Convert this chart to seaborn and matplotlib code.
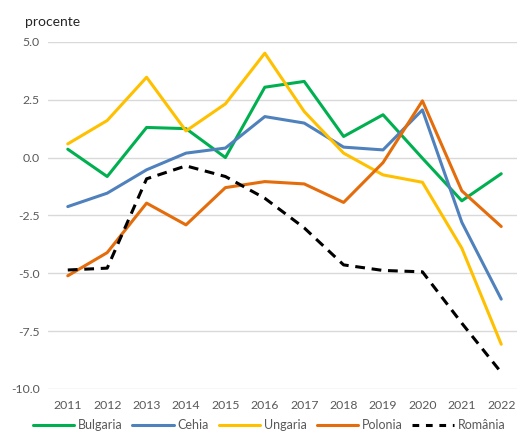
import numpy as np
import pandas as pd
import seaborn as sns
import matplotlib.pyplot as plt
from matplotlib.ticker import FormatStrFormatter

# data
years = list(range(2011, 2023))
bulgaria = [0.36, -0.82, 1.30, 1.25, 0.00, 3.04, 3.29, 0.91, 1.85, -0.03, -1.87, -0.70]
cehia = [-2.12, -1.54, -0.53, 0.19, 0.41, 1.77, 1.49, 0.45, 0.33, 2.06, -2.80, -6.12]
ungaria = [0.59, 1.60, 3.47, 1.15, 2.32, 4.51, 1.99, 0.19, -0.75, -1.07, -3.92, -8.07]
polonia = [-5.11, -4.11, -1.97, -2.91, -1.30, -1.04, -1.14, -1.94, -0.22, 2.45, -1.44, -2.98]
romania = [-4.86, -4.78, -0.92, -0.36, -0.82, -1.76, -3.04, -4.64, -4.88, -4.94, -7.16, -9.29]

series = ['Bulgaria', 'Cehia', 'Ungaria', 'Polonia', 'România']
colors = ['#00B050', '#4F81BD', '#FFC000', '#E46C0A', '#000000']


def buildFrame():

	"""
	long form dataframe for seaborn
	"""

	values = [bulgaria, cehia, ungaria, polonia, romania]
	rows = []
	for name, vals in zip(series, values):
		for y, v in zip(years, vals):
			rows.append({'an': y, 'valoare': v, 'tara': name})
	return pd.DataFrame(rows)


def main():

	sns.set_theme(style='white')
	plt.rcParams['font.family'] = ['Lato', 'DejaVu Sans']

	df = buildFrame()

	fig = plt.figure(figsize=(5.17, 4.36), dpi=100)
	ax = fig.add_axes([0.093, 0.108, 0.907, 0.796])

	dashes = {s: '' for s in series}
	dashes['România'] = (3.2, 2.2)
	sns.lineplot(data=df, x='an', y='valoare', hue='tara', style='tara',
				 palette=dict(zip(series, colors)), dashes=dashes,
				 hue_order=series, style_order=series,
				 linewidth=2.2, ax=ax, legend=False)

	# axes styling
	ax.set_ylim(-10, 5)
	ax.set_xlim(2010.5, 2022.4)
	ax.set_yticks(np.arange(-10, 5.1, 2.5))
	ax.yaxis.set_major_formatter(FormatStrFormatter('%.1f'))
	ax.set_xticks(years)
	ax.set_xticklabels([str(y) for y in years])
	ax.grid(axis='y', color='#D9D9D9', linewidth=1)
	ax.set_axisbelow(True)
	for s in ax.spines.values():
		s.set_visible(False)
	ax.tick_params(axis='both', length=0, labelsize=8.8, labelcolor='#595959')
	ax.tick_params(axis='x', pad=8)
	ax.tick_params(axis='y', pad=6)
	ax.set_xlabel('')
	ax.set_ylabel('')

	fig.text(0.048, 0.94, 'procente', fontsize=10, color='#262626')

	# legend
	handles = [plt.Line2D([], [], color=c, linewidth=2.2,
						  linestyle=(0, (2.2, 2.2)) if n == 'România' else '-')
			   for n, c in zip(series, colors)]
	fig.legend(handles, series, loc='lower center', ncol=5, frameon=False,
			   bbox_to_anchor=(0.52, -0.015), fontsize=9, handlelength=3.3,
			   handletextpad=0.3, columnspacing=0.8, labelcolor='#595959')

	fig.savefig('out.png', dpi=100)


if __name__ == '__main__':
	main()
